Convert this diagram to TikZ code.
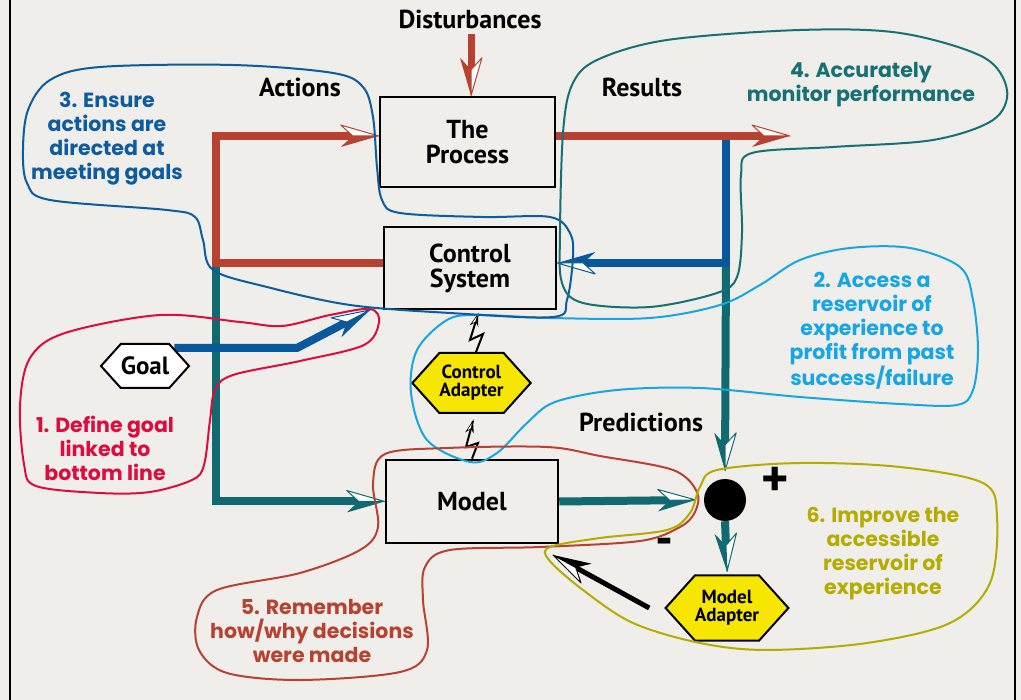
\documentclass[tikz,border=0pt]{standalone}
\usepackage{fontspec}
\setmainfont{PT Sans}
\newfontfamily\notefont{Poppins}
\usetikzlibrary{shapes.symbols}

\definecolor{paper}{RGB}{239,238,235}
\definecolor{flowred}{RGB}{183,66,50}
\definecolor{flowblue}{RGB}{10,88,156}
\definecolor{flowteal}{RGB}{16,106,112}
\definecolor{adapter}{RGB}{247,230,0}
\definecolor{noteA}{RGB}{222,12,62}
\definecolor{noteB}{RGB}{22,166,228}
\definecolor{noteC}{RGB}{14,92,160}
\definecolor{noteD}{RGB}{22,112,116}
\definecolor{noteE}{RGB}{184,66,50}
\definecolor{noteF}{RGB}{180,172,0}

\pgfdeclarelayer{bg}
\pgfdeclarelayer{flows}
\pgfsetlayers{bg,flows,main}

\tikzset{
  box/.style={draw=black, line width=2.5pt, fill=paper, align=center,
    inner sep=0pt, font=\bfseries\fontsize{26}{25}\selectfont},
  hexa/.style={signal, signal to=east and west, signal pointer angle=96,
    draw=black, line width=2pt, align=center, inner sep=0pt},
  adapt/.style={hexa, fill=adapter, minimum width=111,
    font=\bfseries\fontsize{19}{18}\selectfont},
  lbl/.style={font=\bfseries\fontsize{26}{25}\selectfont, inner sep=0pt},
  note/.style={font=\notefont\bfseries\fontsize{20.5}{24}\selectfont,
    align=center, inner sep=0pt},
  flow/.style={line width=8pt},
  loopline/.style={line width=2pt},
  bolt/.style={line width=2pt, line join=miter},
  pics/dart/.style={code={
    \fill[#1] (0,0) -- (-38,11) -- (-26,0) -- cycle;
    \filldraw[draw=#1, fill=white, line width=1pt, line join=round]
      (0,0) -- (-38,-11) -- (-26,0) -- cycle;
  }},
  pics/spark/.style={code={
    \fill[black] (0,0) -- (-12,4) -- (-8,0) -- cycle;
    \filldraw[draw=black, fill=white, line width=0.6pt]
      (0,0) -- (-12,-4) -- (-8,0) -- cycle;
  }},
  tip/.style={pos=1, sloped, allow upside down},
}

\begin{document}
\begin{tikzpicture}[x=1pt, y=-1pt]
\useasboundingbox (0,0) rectangle (1021,700);
\begin{pgfonlayer}{bg}
  \fill[paper] (0,0) rectangle (1021,700);
  \draw[line width=2.5pt] (10,0) -- (10,700);
  \draw[line width=2.5pt] (1015,0) -- (1015,700);
\end{pgfonlayer}

% blocks
\node[box, minimum width=175, minimum height=90] (proc) at (467.5,142) {The\\Process};
\node[box, minimum width=172, minimum height=82] (cs) at (470,268) {Control\\System};
\node[box, minimum width=172, minimum height=83] (model) at (472,501.5) {Model};
\node[adapt, minimum height=60] (ca) at (471.5,383) {Control\\Adapter};
\node[adapt, minimum height=65] (ma) at (727,608) {Model\\Adapter};
\node[hexa, fill=white, minimum width=83, minimum height=44,
  font=\bfseries\fontsize{25}{25}\selectfont] (goal) at (145,366) {Goal};
\node[circle, fill=black, minimum size=42, inner sep=0pt] (sum) at (725,500) {};

% labels
\node[lbl, anchor=base] (dist) at (470,29) {Disturbances};
\node[lbl, anchor=base] (act) at (300,97) {Actions};
\node[lbl, anchor=base] (res) at (642,97) {Results};
\node[lbl, anchor=base] (pred) at (641,432) {Predictions};
\node[font=\bfseries\fontsize{52}{52}\selectfont, inner sep=0pt] (plus) at (775,482) {+};
\node[font=\bfseries\fontsize{50}{50}\selectfont, inner sep=0pt] (minus) at (664,547) {-};

% junctions and free ends
\coordinate (split) at (216,263);
\coordinate (tap) at (726,140);
\coordinate (fb) at (726,263);
\coordinate (resend) at (790,136);
\coordinate (bend) at (297,348);
\coordinate (gtip) at (370,310);
\coordinate (mtip) at (553,555);

\begin{pgfonlayer}{flows}
  % model path and predictions
  \draw[flow, flowteal, shorten >=24pt] (split) |- (model.west) pic[tip]{dart=flowteal};
  \draw[flow, flowteal, shorten >=24pt] (fb) -- ([yshift=8pt]sum.north) pic[tip]{dart=flowteal};
  \draw[flow, flowteal, shorten >=24pt] (model.east) -- ([xshift=-8pt]sum.west) pic[tip]{dart=flowteal};
  \draw[flow, flowteal, shorten >=24pt] (sum.south) -- ([yshift=3pt]ma.north) pic[tip]{dart=flowteal};
  % feedback to the control system
  \draw[flow, flowblue, shorten >=24pt] (tap) -- (fb) -- ([yshift=5pt]cs.east) pic[tip]{dart=flowblue};
  % actions and results
  \draw[flow, flowred, shorten >=24pt] ([yshift=5pt]cs.west) -- (split) |- ([yshift=6pt]proc.west) pic[tip]{dart=flowred};
  \draw[flow, flowred, shorten >=24pt] ([yshift=6pt]proc.east) -- (resend) pic[tip]{dart=flowred};
  \draw[line width=7pt, flowred, shorten >=24pt] (dist.south) ++(1,4) -- ([xshift=3.5pt]proc.north) pic[tip]{dart=flowred};
  % goal
  \draw[flow, flowblue, shorten >=24pt, line join=miter] ([xshift=-16pt,yshift=18pt]goal.east) -- (bend) -- (gtip) pic[tip]{dart=flowblue};
  % model adapter correction
  \draw[line width=5pt, black, shorten >=22pt] ([xshift=-15pt]ma.west) -- (mtip) pic[tip]{dart=black};
  % adapter links
  \draw[bolt] ([xshift=4.5pt]ca.north) -- (483,334) -- (470,340) -- ([xshift=8pt,yshift=-4pt]cs.south) pic[tip]{spark};
  \draw[bolt] (model.north) -- (478,443) -- (466,447) -- ([xshift=1.5pt,yshift=-7pt]ca.south) pic[tip]{spark};
\end{pgfonlayer}

% annotations
\draw[loopline, noteA] plot[smooth cycle, tension=0.55] coordinates {(370,309) (379,322) (364,345) (300,361) (233,375) (215,390) (210,420) (204,465) (192,480) (150,492) (100,493) (36,486) (24,464) (20,405) (30,358) (65,333) (160,315) (240,322) (282,326) (330,315)};
\node[note, noteA] (n1) at (105,448) {1. Define goal\\linked to\\bottom line};

\draw[loopline, noteB] plot[smooth cycle, tension=0.55] coordinates {(478,315) (447,320) (417,350) (411,393) (427,440) (470,462) (497,453) (527,423) (555,402) (617,390) (700,388) (800,397) (900,404) (957,405) (973,390) (978,350) (973,300) (960,267) (910,248) (850,248) (800,260) (760,285) (720,305) (650,318) (550,318)};
\node[note, noteB] (n2) at (872,331) {2. Access a\\reservoir of\\experience to\\profit from past\\success/failure};

\draw[loopline, noteC] plot[smooth cycle, tension=0.55] coordinates {(213,270) (267,287) (350,305) (450,313) (553,317) (567,300) (573,257) (570,233) (550,217) (483,217) (400,213) (382,200) (377,167) (373,117) (363,87) (333,73) (233,65) (100,67) (50,80) (28,110) (23,150) (27,183) (50,200) (167,210) (195,217) (203,240)};
\node[note, noteC] (n3) at (107,139) {3. Ensure\\actions are\\directed at\\meeting goals};

\draw[loopline, noteD] plot[smooth cycle, tension=0.55] coordinates {(597,60) (667,40) (800,30) (900,33) (983,57) (1007,90) (993,120) (933,140) (833,147) (752,153) (741,175) (742,233) (737,277) (717,293) (650,307) (583,303) (562,283) (560,233) (563,133) (572,85)};
\node[note, noteD] (n4) at (861,85) {4. Accurately\\monitor performance};

\draw[loopline, noteE] plot[smooth cycle, tension=0.55] coordinates {(385,454) (447,448) (547,447) (600,456) (673,470) (697,492) (695,512) (680,527) (640,541) (540,547) (450,550) (425,567) (423,600) (427,650) (400,672) (300,680) (227,673) (199,650) (197,617) (217,590) (300,573) (360,550) (378,527) (373,483)};
\node[note, noteE] (n5) at (312,631) {5. Remember\\how/why decisions\\were made};

\draw[loopline, noteF] plot[smooth cycle, tension=0.55] coordinates {(700,487) (717,470) (800,463) (900,467) (983,483) (997,517) (990,583) (950,623) (867,643) (767,650) (700,643) (633,623) (583,590) (549,560) (550,547) (600,538) (667,530) (690,513)};
\node[note, noteF] (n6) at (883,554) {6. Improve the\\accessible\\reservoir of\\experience};
\end{tikzpicture}
\end{document}
